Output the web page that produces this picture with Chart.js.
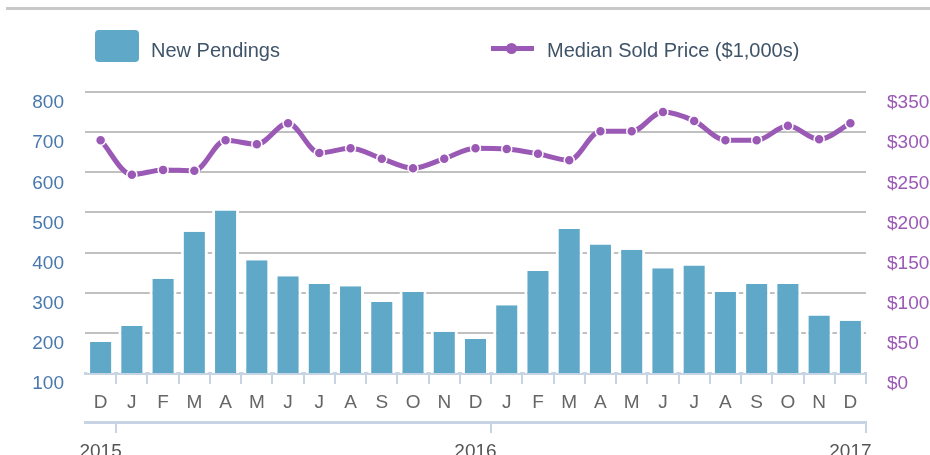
<!DOCTYPE html>
<html>
<head>
<meta charset="utf-8">
<script src="https://cdn.jsdelivr.net/npm/chart.js@4/dist/chart.umd.min.js"></script>
<style>
	html, body { margin: 0; padding: 0; overflow: hidden; background: #fff; }
	body { width: 930px; height: 455px; position: relative; font-family: "Liberation Sans", Arial, sans-serif; }
	.topline { position: absolute; left: 6px; top: 7px; width: 924px; height: 3px; background: #c8c8c8; }
	.wrap { position: absolute; left: 0; top: 0; width: 930px; height: 480px; }
	.lg-box { position: absolute; left: 95px; top: 30px; width: 44px; height: 32px; border-radius: 4px; background: #5fa8c8; }
	.lg-text { position: absolute; top: 40px; font-size: 20px; line-height: 20px; color: #3f5468; white-space: nowrap; }
	.lg-line { position: absolute; left: 491px; top: 46px; width: 43px; height: 5px; background: #9b59b6; }
	.lg-dot { position: absolute; left: 506px; top: 43px; width: 11px; height: 11px; border-radius: 50%; background: #9b59b6; }
</style>
</head>
<body>
<div class="topline"></div>
<div class="wrap"><canvas id="mixChart"></canvas></div>
<div class="lg-box"></div>
<div class="lg-text" id="lgBar" style="left:151px"></div>
<div class="lg-line"></div>
<div class="lg-dot"></div>
<div class="lg-text" id="lgLine" style="left:547px"></div>
<script>
const months = ['D','J','F','M','A','M','J','J','A','S','O','N','D','J','F','M','A','M','J','J','A','S','O','N','D'];
const newPendings = [177,217,335,452,505,381,341,322,316,277,302,203,185,269,354,459,420,407,361,368,302,322,322,243,230];
const medianPrice = [290,247,253,252,290,285,311,274,280,267,255,267,280,279,273,265,301,301,325,314,290,290,308,291,311];
const yearLabels = ['2015','2016','2017'];
const yearAt = [0, 12, 24];
const yearTickLines = [1, 13];

const barLabel = 'New Pendings';
const lineLabel = 'Median Sold Price ($1,000s)';

document.getElementById('lgBar').textContent = barLabel;
document.getElementById('lgLine').textContent = lineLabel;

const axisBlue = '#c6d4e3';
const gridGray = '#c0c0c0';
const font19 = { family: '"Liberation Sans", Arial, sans-serif', size: 19 };

const data = {
	labels: months,
	datasets: [{
		type: 'line',
		label: lineLabel,
		data: medianPrice,
		yAxisID: 'y2',
		order: 0,
		borderColor: '#9b59b6',
		borderWidth: 5,
		pointRadius: 5,
		pointBackgroundColor: '#9b59b6',
		pointBorderColor: '#ffffff',
		pointBorderWidth: 1.5,
		cubicInterpolationMode: 'monotone',
		clip: false
	}, {
		type: 'bar',
		label: barLabel,
		data: newPendings,
		yAxisID: 'y',
		order: 1,
		backgroundColor: '#5fa8c8',
		borderColor: '#ffffff',
		borderWidth: { left: 3, right: 3, top: 0, bottom: 0 },
		borderSkipped: false,
		categoryPercentage: 1,
		barPercentage: 0.865
	}]
};

const tickMark = (ctx) => (ctx.type === 'tick' && ctx.index === 0) ? 'rgba(0,0,0,0)' : axisBlue;
const yearMark = (ctx) => (ctx.type !== 'tick' || yearTickLines.includes(ctx.index)) ? axisBlue : 'rgba(0,0,0,0)';

const config = {
	data: data,
	options: {
		responsive: true,
		maintainAspectRatio: false,
		animation: false,
		layout: { padding: { top: 92, left: 0, right: 0, bottom: 0 } },
		plugins: { legend: { display: false }, tooltip: { enabled: false } },
		scales: {
			x: {
				type: 'category',
				position: 'bottom',
				offset: true,
				grid: { offset: true, drawOnChartArea: false, color: tickMark, lineWidth: 2, tickLength: 11 },
				border: { display: true, color: axisBlue, width: 3 },
				ticks: { color: '#666666', font: font19, padding: 7, autoSkip: false, maxRotation: 0 },
				afterFit: (scale) => { scale.height = 49; }
			},
			x2: {
				type: 'category',
				position: 'bottom',
				labels: months,
				offset: true,
				grid: { offset: true, drawOnChartArea: false, color: yearMark, lineWidth: 2, tickLength: 11 },
				border: { display: true, color: axisBlue, width: 3 },
				ticks: {
					color: '#555555', font: font19, padding: 7, autoSkip: false, maxRotation: 0,
					callback: (v, i) => { const k = yearAt.indexOf(i); return k >= 0 ? yearLabels[k] : ''; }
				},
				afterFit: (scale) => { scale.height = 58; }
			},
			y: {
				position: 'left',
				min: 100,
				max: 800,
				grid: { color: gridGray, lineWidth: 2, drawTicks: false },
				border: { display: false },
				ticks: { stepSize: 100, color: '#4a78ad', font: font19, padding: 21, labelOffset: 11 },
				afterFit: (scale) => { scale.width = 85; }
			},
			y2: {
				position: 'right',
				min: 0,
				max: 350,
				grid: { display: false, drawOnChartArea: false },
				border: { display: false },
				ticks: { stepSize: 50, color: '#9b59b6', font: font19, padding: 13, labelOffset: 11, callback: (v) => '$' + v },
				afterFit: (scale) => { scale.width = 64; }
			}
		}
	}
};

const ctx = document.getElementById('mixChart').getContext('2d');
const myChart = new Chart(ctx, config);
</script>
</body>
</html>
